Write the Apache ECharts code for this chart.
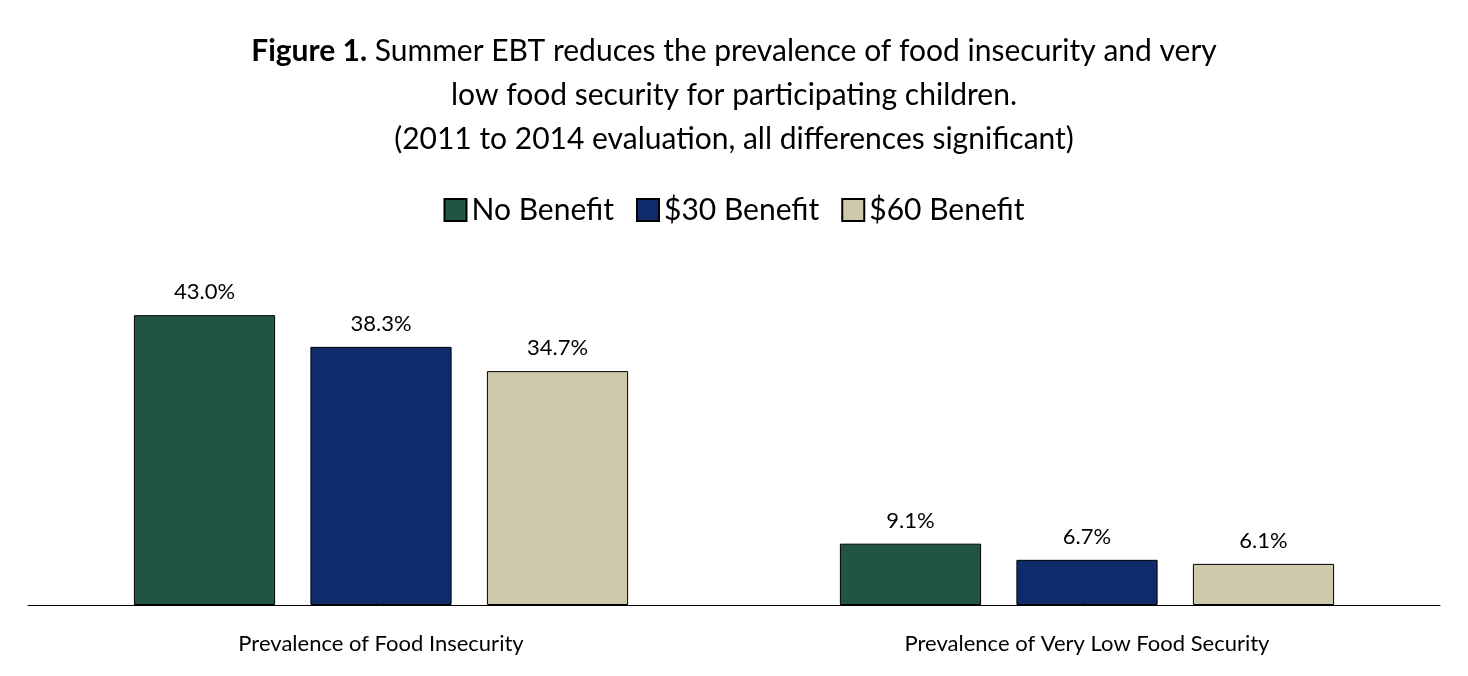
<!DOCTYPE html>
<html><head><meta charset="utf-8">
<script src="https://cdn.jsdelivr.net/npm/echarts@6/dist/echarts.min.js"></script>
<style>html,body{margin:0;background:#fff}#c{width:1468px;height:676px}</style>
</head><body><div id="c"></div>
<script>
const categories = ['Prevalence of Food Insecurity', 'Prevalence of Very Low Food Security'];
const noBenefit = [43.0, 9.1];
const benefit30 = [38.3, 6.7];
const benefit60 = [34.7, 6.1];

const chart = echarts.init(document.getElementById('c'));
const font = 'Lato, "Open Sans", sans-serif';
const mk = (name, data, color) => ({
  name, type: 'bar', data, barWidth: '20%', barGap: '25%',
  itemStyle: { color, borderColor: '#000', borderWidth: 1 },
  label: { show: true, position: 'top', distance: 12, formatter: p => p.value.toFixed(1) + '%',
    color: '#000', fontSize: 22, fontFamily: font }
});
chart.setOption({
  title: {
    text: '{b|Figure 1.} Summer EBT reduces the prevalence of food insecurity and very\nlow food security for participating children.\n(2011 to 2014 evaluation, all differences significant)',
    left: 'center', top: 24,
    textStyle: { fontSize: 30, fontWeight: 'normal', color: '#000', fontFamily: font, lineHeight: 44,
      rich: { b: { fontWeight: 'bold', fontSize: 30, fontFamily: font } } }
  },
  legend: {
    top: 190, left: 'center', itemWidth: 22, itemHeight: 22, itemGap: 22, icon: 'rect',
    textStyle: { fontSize: 30, color: '#000', fontFamily: font },
    data: ['No Benefit', '$30 Benefit', '$60 Benefit']
  },
  grid: { left: 28, right: 28, top: 268, bottom: 71 },
  xAxis: { type: 'category', data: categories,
    axisLine: { lineStyle: { color: '#000', width: 1 } }, axisTick: { show: false },
    axisLabel: { color: '#000', fontSize: 22, fontFamily: font, margin: 28 } },
  yAxis: { type: 'value', min: 0, max: 50, show: false, splitLine: { show: false } },
  series: [mk('No Benefit', noBenefit, '#215441'), mk('$30 Benefit', benefit30, '#102b6b'), mk('$60 Benefit', benefit60, '#cfc9ab')]
});
</script></body></html>
